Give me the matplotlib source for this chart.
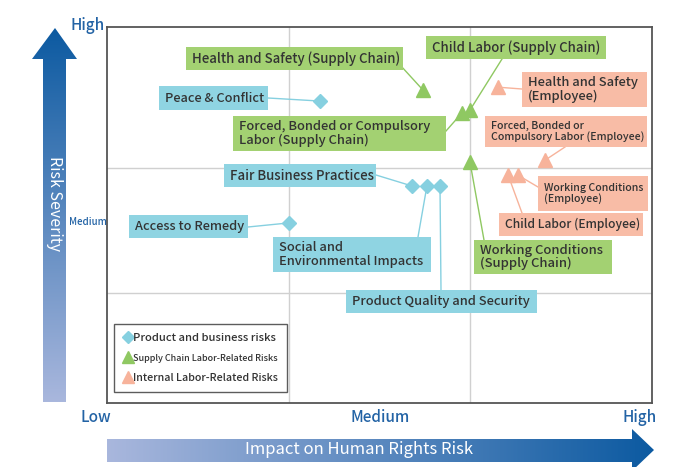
import numpy as np
import matplotlib
matplotlib.use("Agg")
import matplotlib.pyplot as plt
from matplotlib.patches import Polygon, Rectangle
from matplotlib.lines import Line2D
from matplotlib.colors import to_rgb

plt.rcParams["font.family"] = ["Noto Sans CJK JP", "DejaVu Sans"]

# ---- data: (impact, severity) on a 0-10 scale ----
product_names = ["Peace & Conflict", "Access to Remedy", "Fair Business Practices",
                 "Social and\nEnvironmental Impacts", "Product Quality and Security"]
product_impact = [3.91, 3.34, 5.60, 5.87, 6.11]
product_severity = [8.03, 4.79, 5.77, 5.77, 5.77]

supply_names = ["Health and Safety (Supply Chain)", "Child Labor (Supply Chain)",
                "Forced, Bonded or Compulsory\nLabor (Supply Chain)",
                "Working Conditions\n(Supply Chain)"]
supply_impact = [5.80, 6.66, 6.51, 6.66]
supply_severity = [8.32, 7.79, 7.71, 6.41]

internal_names = ["Health and Safety\n(Employee)",
                  "Forced, Bonded or\nCompulsory Labor (Employee)",
                  "Working Conditions\n(Employee)", "Child Labor (Employee)"]
internal_impact = [7.17, 8.04, 7.54, 7.36]
internal_severity = [8.40, 6.46, 6.06, 6.06]

legend_labels = ["Product and business risks", "Supply Chain Labor-Related Risks",
                 "Internal Labor-Related Risks"]

# ---- style ----
BLUE_BOX, BLUE_PT = "#8fd4e2", "#86d0e0"
GREEN_BOX, GREEN_PT = "#a3d172", "#8fc862"
ORANGE_BOX, ORANGE_PT = "#f8bca6", "#f7b39b"
TEXT = "#333333"
AXIS_BLUE = "#2363a5"
DARK, LIGHT = "#0c5aa1", "#a9b7dd"

W, H = 694, 467
AX_L, AX_R, AX_T, AX_B = 107, 652, 27, 403


def px(x, y):
    return ((x - AX_L) / (AX_R - AX_L) * 10, (AX_B - y) / (AX_B - AX_T) * 10)


# label layout in figure pixels: box (l, t, r, b), leader start, font size
layout_product = [
    ((159, 86, 268, 110), (268, 98), 9.2),
    ((129, 215, 248, 238), (248, 227), 9.2),
    ((224, 164, 376, 187), (376, 175), 9.5),
    ((273, 237, 431, 272), (418, 237), 9.3),
    ((346, 290, 537, 313), (441, 290), 9.3),
]
layout_supply = [
    ((186, 47, 403, 70), (401, 66), 9.5),
    ((426, 36, 606, 59), (502, 59), 9.5),
    ((233, 116, 446, 151), (446, 131), 9.3),
    ((474, 240, 612, 274), (484, 240), 9.4),
]
layout_internal = [
    ((522, 72, 647, 107), (522, 89), 9.3),
    ((485, 116, 647, 147), (565, 147), 7.6),
    ((538, 176, 648, 211), (538, 187), 7.6),
    ((499, 213, 643, 236), (522, 213), 8.7),
]

fig = plt.figure(figsize=(W / 100, H / 100), dpi=100)

# background layer for arrows and outer labels
bg = fig.add_axes([0, 0, 1, 1], zorder=0)
bg.axis("off")

d, l = np.array(to_rgb(DARK)), np.array(to_rgb(LIGHT))
t = np.linspace(0, 1, 256)
grad_v = (d[None, :] * (1 - t[:, None]) + l[None, :] * t[:, None])[:, None, :]
grad_h = (l[None, :] * (1 - t[:, None]) + d[None, :] * t[:, None])[None, :, :]

up = Polygon([(55, 28), (77, 59), (66, 59), (66, 402), (43, 402), (43, 59), (32, 59)],
             closed=True, transform=bg.transData, fc="none", ec="none")
bg.add_patch(up)
im = bg.imshow(grad_v, extent=(32, 78, 402, 28), aspect="auto", origin="upper")
im.set_clip_path(up)

right = Polygon([(107, 439), (632, 439), (632, 429), (654, 450), (632, 471),
                 (632, 462), (107, 462)],
                closed=True, transform=bg.transData, fc="none", ec="none")
bg.add_patch(right)
im2 = bg.imshow(grad_h, extent=(107, 654, 472, 428), aspect="auto", origin="upper")
im2.set_clip_path(right)
bg.set_xlim(0, W)
bg.set_ylim(H, 0)

bg.text(55, 204, "Risk Severity", rotation=-90, color="white", fontsize=11.5,
        ha="center", va="center")
bg.text(359, 450, "Impact on Human Rights Risk", color="white", fontsize=12,
        ha="center", va="center")
for x, y, s, fs in [(88, 26, "High", 11), (88, 222, "Medium", 7),
                    (96, 417, "Low", 11), (380, 417, "Medium", 11),
                    (640, 417, "High", 11)]:
    bg.text(x, y, s, color=AXIS_BLUE, fontsize=fs, fontweight="medium",
            ha="center", va="center")

# main plot
ax = fig.add_axes([AX_L / W, 1 - AX_B / H, (AX_R - AX_L) / W, (AX_B - AX_T) / H], zorder=1)
ax.set_xlim(0, 10)
ax.set_ylim(0, 10)
ax.set_xticks([px(289, 0)[0], px(470, 0)[0]])
ax.set_yticks([px(0, 168)[1], px(0, 293)[1]])
ax.tick_params(length=0, labelbottom=False, labelleft=False)
ax.grid(True, color="#d0d0d0", lw=1)
for s in ax.spines.values():
    s.set_color("#555555")
    s.set_linewidth(1.3)


def draw_labels(names, xs, ys, layout, box_color, line_color):
    for name, x, y, (box, start, fs) in zip(names, xs, ys, layout):
        x0, y0 = px(box[0], box[3])
        x1, y1 = px(box[2], box[1])
        sx, sy = px(*start)
        ax.plot([sx, x], [sy, y], color=line_color, lw=1, zorder=2)
        ax.add_patch(Rectangle((x0, y0), x1 - x0, y1 - y0, fc=box_color, ec="none", zorder=3))
        tx, ty = px(box[0] + 6, (box[1] + box[3]) / 2)
        ax.text(tx, ty, name, fontsize=fs, color=TEXT, fontweight="medium",
                ha="left", va="center", linespacing=1.05, zorder=4)


draw_labels(product_names, product_impact, product_severity, layout_product, BLUE_BOX, BLUE_PT)
draw_labels(supply_names, supply_impact, supply_severity, layout_supply, GREEN_BOX, GREEN_PT)
draw_labels(internal_names, internal_impact, internal_severity, layout_internal, ORANGE_BOX, ORANGE_PT)

ax.plot(product_impact, product_severity, "D", ms=7.3, color=BLUE_PT, zorder=5, ls="none")
ax.plot(supply_impact, supply_severity, "^", ms=10.5, color=GREEN_PT, zorder=5, ls="none")
ax.plot(internal_impact, internal_severity, "^", ms=10.5, color=ORANGE_PT, zorder=5, ls="none")

handles = [
    Line2D([], [], marker="D", ls="none", ms=6, color=BLUE_PT),
    Line2D([], [], marker="^", ls="none", ms=8.5, color=GREEN_PT),
    Line2D([], [], marker="^", ls="none", ms=8.5, color=ORANGE_PT),
]
leg = ax.legend(handles, legend_labels, loc="lower left",
                bbox_to_anchor=((114 - AX_L) / (AX_R - AX_L), (AX_B - 392) / (AX_B - AX_T)),
                fontsize=8.1, frameon=True, fancybox=False, handlelength=0.8,
                handletextpad=0.1, borderpad=0.8, labelspacing=0.9, borderaxespad=0)
leg.get_frame().set_edgecolor("#333333")
leg.get_frame().set_linewidth(1)
for txt in leg.get_texts():
    txt.set_color(TEXT)
    txt.set_fontweight("medium")
leg.get_texts()[1].set_fontsize(6.5)
leg.get_texts()[2].set_fontsize(7.7)

fig.savefig("out.png", dpi=100)
